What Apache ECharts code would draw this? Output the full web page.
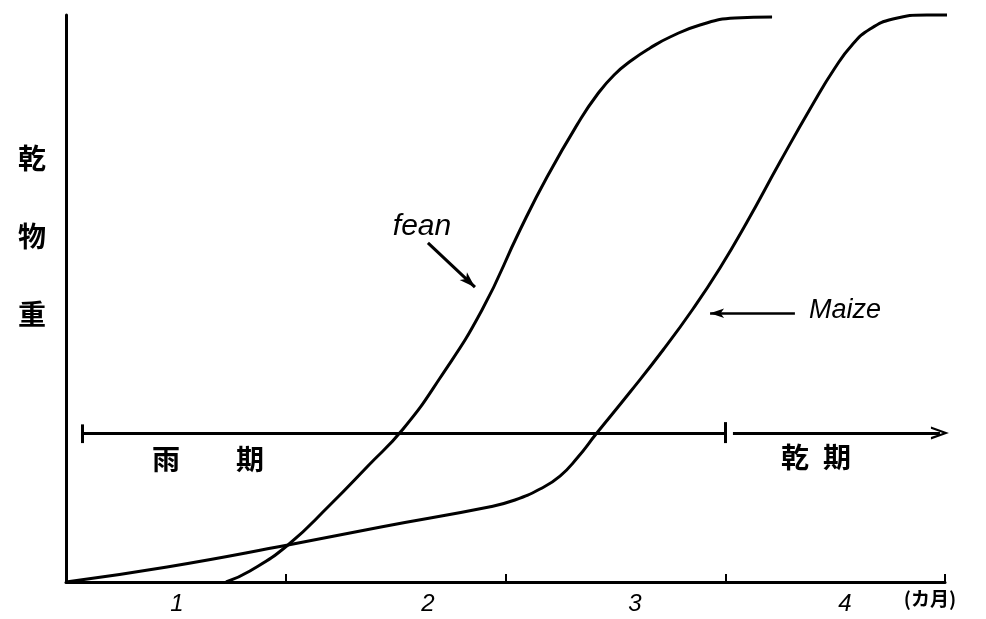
<!DOCTYPE html>
<html>
<head>
<meta charset="utf-8">
<script src="https://cdn.jsdelivr.net/npm/echarts@6/dist/echarts.min.js"></script>
<style>html,body{margin:0;padding:0;background:#fff}#c{width:986px;height:619px}</style>
</head>
<body>
<div id="c"></div>
<script>
// x: months (0..4), y: relative dry-matter weight (0..100)
const beanX = [0.728, 0.837, 1.010, 1.201, 1.374, 1.534, 1.702, 1.893, 2.066, 2.189, 2.339, 2.416, 2.494, 2.576, 2.658, 2.749, 2.885, 3.044, 3.213];
const beanY = [0.0, 1.94, 6.53, 13.58, 20.46, 26.98, 35.98, 47.97, 62.08, 71.43, 81.48, 85.89, 89.42, 92.06, 94.18, 96.12, 98.24, 99.47, 99.65];
const maizeX = [0.0, 0.460, 1.010, 1.433, 1.925, 2.043, 2.157, 2.248, 2.330, 2.412, 2.567, 2.717, 2.853, 2.976, 3.099, 3.249, 3.399, 3.499, 3.577, 3.659, 3.763, 3.918, 4.187];
const maizeY = [0.0, 2.65, 6.53, 9.70, 13.23, 14.46, 16.40, 18.69, 22.05, 26.10, 33.51, 40.92, 48.15, 55.38, 63.49, 74.07, 84.30, 90.65, 94.71, 97.53, 99.29, 100.0, 100.0];

const tickValues = [1, 2, 3, 4];
const labelValues = [0.505, 1.647, 2.589, 3.545];
const monthLabels = ['1', '2', '3', '4'];
const xUnit = '(カ月)';
const yTitle = '乾\n物\n重';

// rain / dry period bar
const periodY = 26.3;
const rainStart = 0.073, rainEnd = 2.999;
const dryStart = 3.035, dryEnd = 3.977;
const periodTickLow = 24.5, periodTickHigh = 27.8;

// annotations
const textLabels = ['fean', 'Maize', '雨　　期', '乾\u2002期'];
const textX = [1.620, 3.545, 0.646, 3.413];
const textY = [62.6, 47.8, 21.7, 22.0];
const beanArrowFrom = [1.647, 59.8], beanArrowTo = [1.861, 52.0];
const maizeArrowFrom = [3.317, 47.4], maizeArrowTo = [2.931, 47.4];

const pair = (xs, ys) => xs.map((x, i) => [x, ys[i]]);

const latinStyle = [
  {fontSize: 30, fontStyle: 'italic', fontFamily: 'Liberation Sans'},
  {fontSize: 27, fontStyle: 'italic', fontFamily: 'Liberation Sans'}
];
const cjkStyle = {fontSize: 28, fontWeight: 'bold', fontFamily: 'Noto Sans CJK JP'};

const labelData = textLabels.map((t, i) => ({
  value: [textX[i], textY[i], t],
  label: Object.assign({show: true, position: 'inside', color: '#000', opacity: 1, formatter: p => p.data.value[2]},
                       i < 2 ? latinStyle[i] : cjkStyle)
}));

const chevron = 'path://M10,0 L20,16 L16.5,16 L10,5.5 L3.5,16 L0,16 Z';

const chart = echarts.init(document.getElementById('c'), null, {renderer: 'canvas'});
chart.setOption({
  animation: false,
  backgroundColor: '#fff',
  title: {
    text: yTitle, left: 13, top: 114,
    textStyle: {fontSize: 28, lineHeight: 78, fontWeight: 'bold', color: '#000', fontFamily: 'Noto Sans CJK JP'}
  },
  grid: {left: 66, right: 41, top: 15, bottom: 37},
  xAxis: {
    type: 'value', min: 0, max: 4,
    axisLine: {lineStyle: {color: '#000', width: 3}},
    axisTick: {show: true, inside: true, length: 8, lineStyle: {color: '#000', width: 2}, customValues: tickValues},
    axisLabel: {
      customValues: labelValues,
      formatter: v => monthLabels[labelValues.indexOf(v)] || '',
      margin: 10, fontSize: 24, fontStyle: 'italic', color: '#000', fontFamily: 'Liberation Sans'
    },
    splitLine: {show: false},
    name: xUnit, nameLocation: 'end', nameGap: -15,
    nameTextStyle: {align: 'center', verticalAlign: 'top', padding: [7, 0, 0, 0], fontSize: 19, fontWeight: 'bold', color: '#000', fontFamily: 'Noto Sans CJK JP'}
  },
  yAxis: {
    type: 'value', min: 0, max: 100,
    axisLine: {show: true, lineStyle: {color: '#000', width: 3}},
    axisTick: {show: false}, axisLabel: {show: false}, splitLine: {show: false}
  },
  series: [
    {
      name: 'bean', type: 'line', data: pair(beanX, beanY), smooth: 0.5,
      showSymbol: false, clip: false, lineStyle: {color: '#000', width: 3}
    },
    {
      name: 'maize', type: 'line', data: pair(maizeX, maizeY), smooth: 0.5,
      showSymbol: false, clip: false, lineStyle: {color: '#000', width: 3}
    },
    {
      name: 'notes', type: 'scatter', data: labelData, symbolSize: 0, silent: true,
      itemStyle: {opacity: 1},
      markLine: {
        silent: true, symbol: 'none', label: {show: false},
        lineStyle: {color: '#000', width: 3, type: 'solid', opacity: 1},
        data: [
          [{coord: [rainStart, periodY]}, {coord: [rainEnd, periodY]}],
          [{coord: [rainStart, periodTickLow]}, {coord: [rainStart, periodTickHigh]}],
          [{coord: [rainEnd, periodTickLow]}, {coord: [rainEnd, periodTickHigh + 0.4]}],
          [{coord: [dryStart, periodY]}, {coord: [dryEnd, periodY], symbol: chevron, symbolSize: [13, 18]}],
          [{coord: beanArrowFrom}, {coord: beanArrowTo, symbol: 'arrow', symbolSize: [8, 16]}],
          [{coord: maizeArrowFrom, lineStyle: {width: 2.5}}, {coord: maizeArrowTo, symbol: 'arrow', symbolSize: [7, 14]}]
        ]
      }
    }
  ]
});
</script>
</body>
</html>
